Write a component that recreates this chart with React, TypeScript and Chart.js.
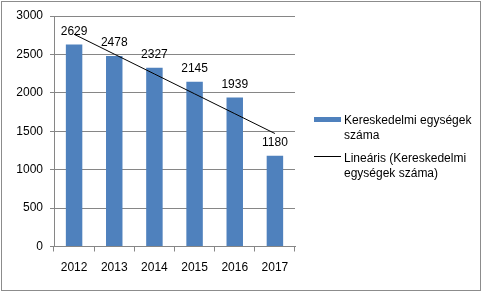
import React, { useEffect, useRef } from "react";
import { Chart, registerables } from "chart.js";

Chart.register(...registerables);

const years: string[] = ["2012", "2013", "2014", "2015", "2016", "2017"];
const units: number[] = [2629, 2478, 2327, 2145, 1939, 1180];
const yMin = 0;
const yMax = 3000;
const yStep = 500;
const seriesLabel = "Kereskedelmi egységek száma";
const trendLabel = "Lineáris (Kereskedelmi egységek száma)";
const seriesLegendLines: string[] = ["Kereskedelmi egységek", "száma"];
const trendLegendLines: string[] = ["Lineáris (Kereskedelmi", "egységek száma)"];

// Linear (least squares) trendline of the series, as Excel draws it
function linearTrend(values: number[]): number[] {
  const n = values.length;
  const mx = (n - 1) / 2;
  const my = values.reduce((a, b) => a + b, 0) / n;
  let sxy = 0;
  let sxx = 0;
  values.forEach((v, i) => {
    sxy += (i - mx) * (v - my);
    sxx += (i - mx) * (i - mx);
  });
  const slope = sxy / sxx;
  return values.map((_, i) => my + slope * (i - mx));
}

const FONT_FAMILY = "'Liberation Sans', Arial, sans-serif";
const BAR_COLOR = "#4F81BD";
const AXIS_COLOR = "#868686";

export default function App() {
  const ref = useRef<HTMLCanvasElement>(null);

  useEffect(() => {
    document.body.style.margin = "0";
    const canvas = ref.current;
    if (!canvas) return;

    const bgPlugin = {
      id: "bg",
      beforeDraw(chart: any) {
        const ctx = chart.ctx;
        ctx.save();
        ctx.fillStyle = "#ffffff";
        ctx.fillRect(0, 0, chart.width, chart.height);
        ctx.restore();
      },
      afterDraw(chart: any) {
        const ctx = chart.ctx;
        ctx.save();
        ctx.strokeStyle = "#8c8c8c";
        ctx.lineWidth = 1;
        ctx.strokeRect(1.5, 1.5, 479, 289);
        ctx.restore();
      },
    };

    const labelPlugin = {
      id: "valueLabels",
      afterDatasetsDraw(chart: any) {
        const ctx = chart.ctx;
        const meta = chart.getDatasetMeta(0);
        ctx.save();
        ctx.font = `12px ${FONT_FAMILY}`;
        ctx.fillStyle = "#000000";
        ctx.textAlign = "center";
        ctx.textBaseline = "alphabetic";
        meta.data.forEach((el: any, i: number) => {
          ctx.fillText(String(units[i]), el.x, el.y - 10);
        });
        ctx.restore();
      },
    };

    const legendPlugin = {
      id: "customLegend",
      afterDraw(chart: any) {
        const ctx = chart.ctx;
        ctx.save();
        ctx.font = `12px ${FONT_FAMILY}`;
        ctx.textAlign = "left";
        ctx.textBaseline = "alphabetic";
        // bar swatch
        ctx.fillStyle = BAR_COLOR;
        ctx.fillRect(314, 117, 27, 5);
        ctx.fillStyle = "#000000";
        seriesLegendLines.forEach((t, i) => ctx.fillText(t, 344, 124 + i * 14.5));
        // line swatch
        ctx.strokeStyle = "#000000";
        ctx.lineWidth = 1;
        ctx.beginPath();
        ctx.moveTo(314, 156.5);
        ctx.lineTo(341, 156.5);
        ctx.stroke();
        trendLegendLines.forEach((t, i) => ctx.fillText(t, 344, 162 + i * 14.5));
        ctx.restore();
      },
    };

    const font = { family: FONT_FAMILY, size: 12 };

    const chart = new Chart(canvas, {
      type: "bar",
      data: {
        labels: years,
        datasets: [
          {
            type: "bar",
            label: seriesLabel,
            data: units,
            backgroundColor: BAR_COLOR,
            borderWidth: 0,
            barPercentage: 0.41,
            categoryPercentage: 1,
            order: 1,
          } as any,
          {
            type: "line",
            label: trendLabel,
            data: linearTrend(units),
            borderColor: "#000000",
            borderWidth: 1,
            pointRadius: 0,
            fill: false,
            tension: 0,
            order: 0,
          } as any,
        ],
      },
      options: {
        responsive: false,
        animation: false,
        devicePixelRatio: 1,
        layout: { padding: { left: 0, top: 16, right: 188, bottom: 0 } },
        plugins: {
          legend: { display: false },
          tooltip: { enabled: false },
          title: { display: false },
        },
        scales: {
          x: {
            offset: true,
            grid: {
              offset: true,
              drawOnChartArea: false,
              drawTicks: true,
              tickLength: 5,
              color: AXIS_COLOR,
            },
            border: { color: AXIS_COLOR },
            ticks: { font, color: "#000000", padding: 9, maxRotation: 0 },
            afterFit: (s: any) => {
              s.height = 45.5;
            },
          },
          y: {
            min: yMin,
            max: yMax,
            ticks: {
              stepSize: yStep,
              font,
              color: "#000000",
              padding: 7,
              callback: (v: any) => String(v),
            },
            grid: { color: AXIS_COLOR, tickLength: 4 },
            border: { color: AXIS_COLOR },
            afterFit: (s: any) => {
              s.width = 54;
            },
          },
        },
      },
      plugins: [bgPlugin, labelPlugin, legendPlugin],
    });

    return () => chart.destroy();
  }, []);

  return (
    <div style={{ position: "absolute", left: 0, top: 0, width: 483, height: 292 }}>
      <canvas ref={ref} width={483} height={292} style={{ display: "block" }} />
    </div>
  );
}
